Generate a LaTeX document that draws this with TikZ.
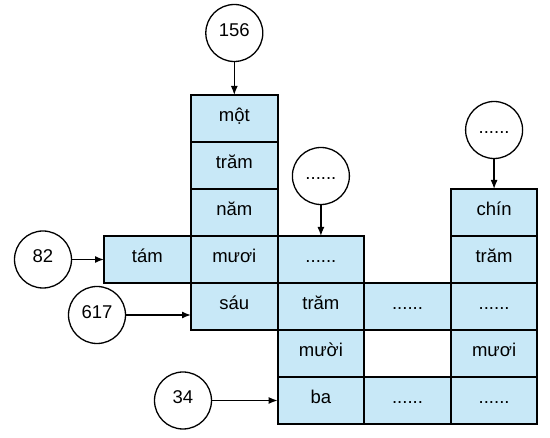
\documentclass[tikz,border=0pt]{standalone}
\usepackage{fontspec}
\setmainfont{Liberation Sans}
\usetikzlibrary{arrows.meta}
\definecolor{cellblue}{RGB}{200,232,247}

\begin{document}
\begin{tikzpicture}[x=1pt,y=-1pt,>={Latex[length=9pt,width=7pt]}]
\tikzstyle{every node}+=[inner sep=0pt,outer sep=0pt,font=\fontsize{18.5}{21}\selectfont,text height=1.5ex,text depth=.25ex]
\tikzstyle{cell}=[draw=black,line width=2pt,fill=cellblue,minimum width=86.6pt,minimum height=47pt]
\tikzstyle{num}=[draw=black,line width=1.3pt,circle,minimum size=57pt]
\tikzstyle{link}=[->,line width=1.4pt]
\useasboundingbox (0,0) rectangle (550,438);
% column 1: 156
\node [cell] (mot) at (234.3,118.5) {một};
\node [cell] (tramA) at (234.3,165.5) {trăm};
\node [cell] (nam) at (234.3,212.5) {năm};
\node [cell] (muoiA) at (234.3,259.5) {mươi};
\node [cell] (sau) at (234.3,306.5) {sáu};
% row of 82
\node [cell] (tam) at (147.3,259.5) {tám};
% column 2
\node [cell] (dotsA) at (320.9,259.5) {......};
\node [cell] (tramB) at (320.9,306.5) {trăm};
\node [cell] (muoiB) at (320.9,353.5) {mười};
\node [cell] (ba) at (320.9,400.5) {ba};
% column 3
\node [cell] (dotsB) at (407.5,306.5) {......};
\node [cell] (dotsC) at (407.5,400.5) {......};
% column 4
\node [cell] (chin) at (494.1,212.5) {chín};
\node [cell] (tramC) at (494.1,259.5) {trăm};
\node [cell] (dotsD) at (494.1,306.5) {......};
\node [cell] (muoiC) at (494.1,353.5) {mươi};
\node [cell] (dotsE) at (494.1,400.5) {......};
% numbers
\node [num] (n156) at (234.3,33) {156};
\node [num] (nA) at (320.9,176) {......};
\node [num] (nB) at (494.1,130) {......};
\node [num] (n82) at (43,259.5) {82};
\node [num] (n617) at (97,315) {617};
\node [num] (n34) at (183,400.5) {34};
% arrows
\draw [link] (n156) -- (mot);
\draw [link] (nA) -- (dotsA);
\draw [link] (nB) -- (chin);
\draw [link] (n82) -- (tam);
\draw [link] (n617) -- (n617 -| sau.west);
\draw [link] (n34) -- (ba);
\end{tikzpicture}
\end{document}
